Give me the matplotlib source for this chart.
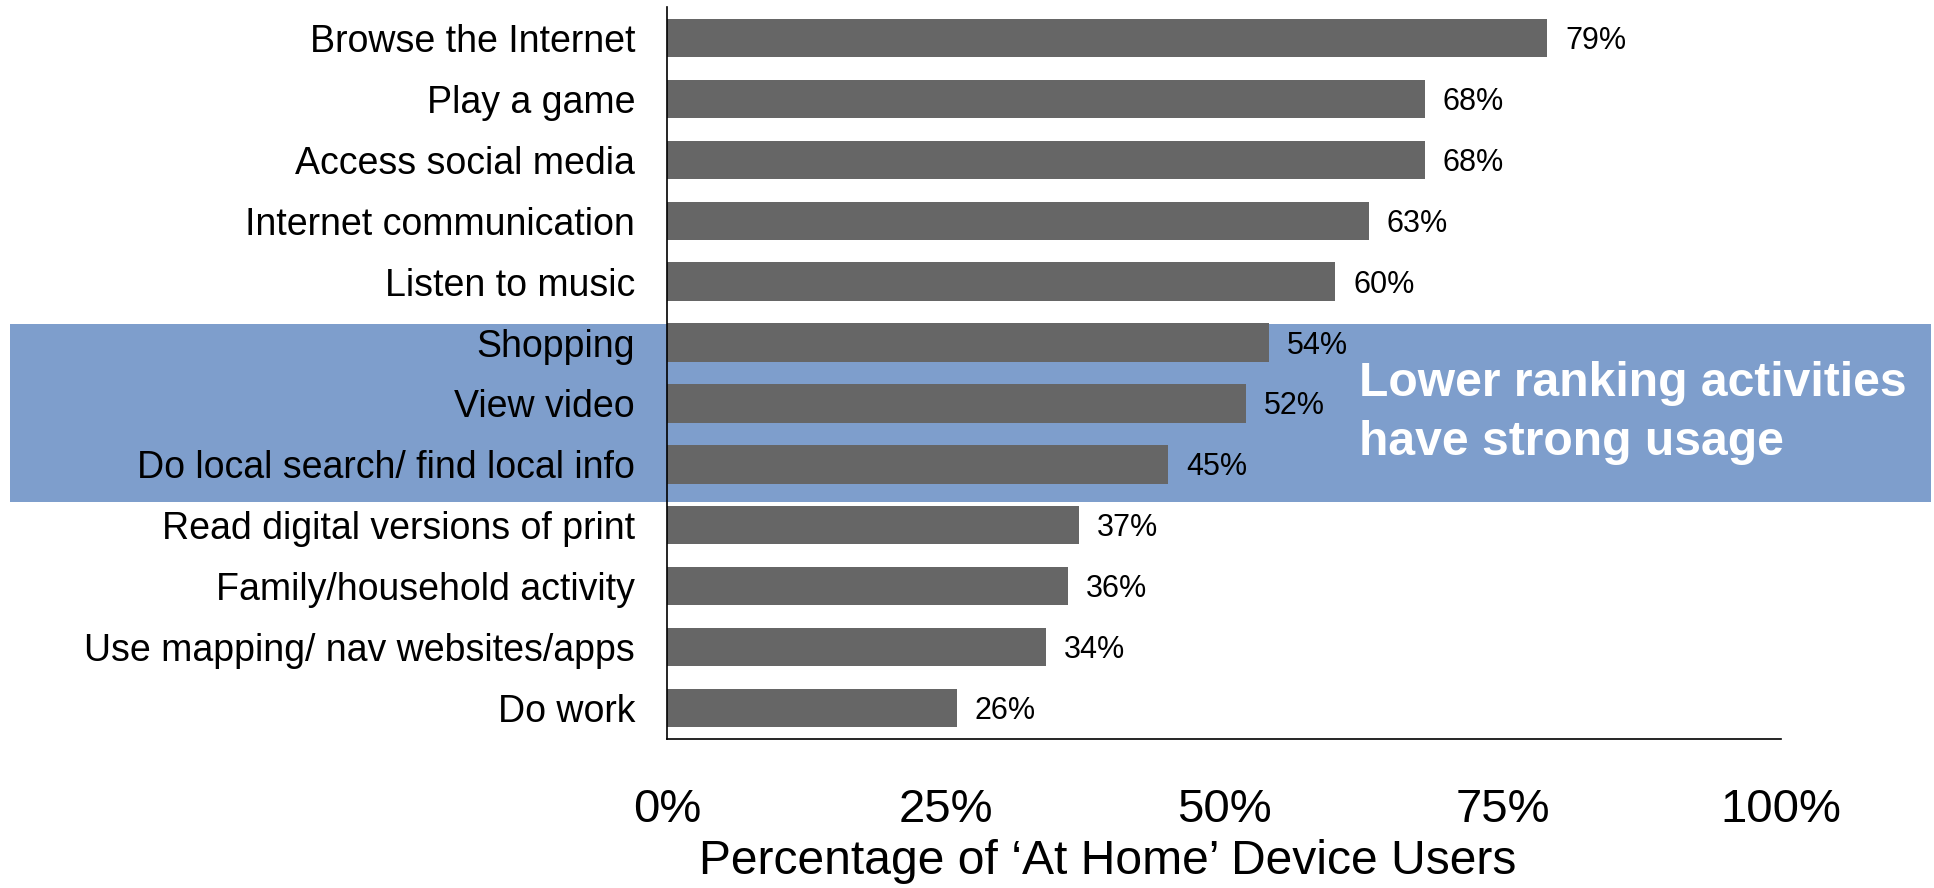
import matplotlib.pyplot as plt
from matplotlib.patches import Rectangle

plt.rcParams['font.family'] = ['Liberation Sans', 'DejaVu Sans']

activities = [
    'Browse the Internet', 'Play a game', 'Access social media',
    'Internet communication', 'Listen to music', 'Shopping', 'View video',
    'Do local search/ find local info', 'Read digital versions of print',
    'Family/household activity', 'Use mapping/ nav websites/apps', 'Do work',
]
shares = [79, 68, 68, 63, 60, 54, 52, 45, 37, 36, 34, 26]
xticks = [0, 25, 50, 75, 100]

fig = plt.figure(figsize=(19.34, 8.88), dpi=100)
ax = fig.add_axes([0.3449, 0.1678, 0.576, 0.8243])
ax.set_facecolor('none')

# blue highlight band behind the middle group of rows
band = Rectangle((10 / 1934, (888 - 502) / 888), 1921 / 1934, 178 / 888,
                 transform=fig.transFigure, facecolor='#7E9ECC',
                 edgecolor='none', zorder=0, clip_on=False)
ax.add_patch(band)

pos = list(range(len(activities)))
ax.barh(pos, shares, height=0.63, color='#666666', zorder=2)
for y, v in zip(pos, shares):
    ax.text(v + 1.6, y + 0.05, f'{v}%', va='center', ha='left', fontsize=22,
            color='black', zorder=3)

ax.set_xlim(0, 100)
ax.set_ylim(11.51, -0.51)
ax.set_yticks(pos)
ax.set_yticklabels(activities, fontsize=27)
ax.set_xticks(xticks)
ax.set_xticklabels([f'{t}%' for t in xticks], fontsize=34)
ax.tick_params(axis='both', length=0)
ax.tick_params(axis='x', pad=35)
ax.tick_params(axis='y', pad=23)

for side in ['top', 'right']:
    ax.spines[side].set_visible(False)
for side in ['left', 'bottom']:
    ax.spines[side].set_color('black')
    ax.spines[side].set_linewidth(1.2)
    ax.spines[side].set_zorder(4)

# axis title sits left of the axes centre
fig.text(1108 / 1934, (888 - 861) / 888, 'Percentage of \u2018At Home\u2019 Device Users',
         fontsize=34.6, ha='center', va='center')

fig.text(1359 / 1934, (888 - 413) / 888, 'Lower ranking activities\nhave strong usage',
         color='white', fontsize=34.6, fontweight='bold', ha='left', va='center',
         linespacing=1.42)

fig.savefig('out.png', dpi=100, facecolor='white')
